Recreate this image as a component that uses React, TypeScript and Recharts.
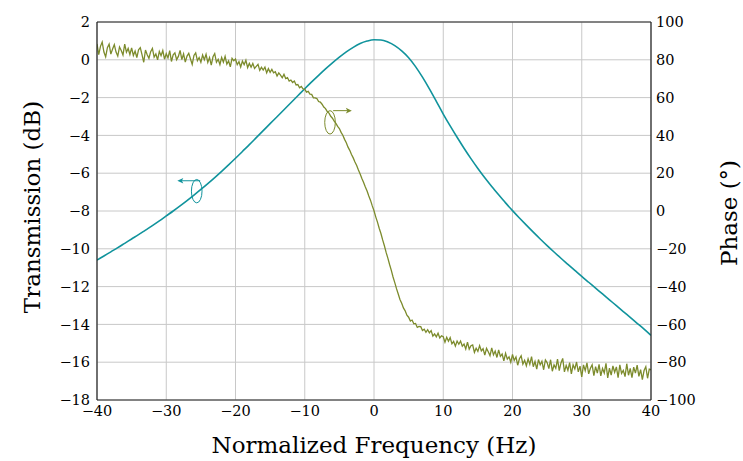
import React from 'react';
import {
  LineChart,
  Line,
  XAxis,
  YAxis,
  CartesianGrid,
  ReferenceDot,
  ReferenceLine,
  Label,
} from 'recharts';

const TEAL = '#10939c';
const OLIVE = '#7c8b2c';
const FONT = 'DejaVu Serif, serif';

const FREQ_TICKS = [-40, -30, -20, -10, 0, 10, 20, 30, 40];
const DB_TICKS = [-18, -16, -14, -12, -10, -8, -6, -4, -2, 0, 2];
const DEG_TICKS = [-100, -80, -60, -40, -20, 0, 20, 40, 60, 80, 100];

// transmission, sampled every 1 Hz from -40 Hz
const TRANS_START = -40;
const TRANS_STEP = 1;
const TRANSMISSION_DB = [
  -10.6, -10.38, -10.16, -9.94, -9.71, -9.48, -9.25, -9.01, -8.77, -8.52,
  -8.26, -8.0, -7.73, -7.45, -7.16, -6.86, -6.55, -6.23, -5.9, -5.56,
  -5.21, -4.85, -4.49, -4.12, -3.75, -3.38, -3.01, -2.64, -2.27, -1.9,
  -1.53, -1.17, -0.82, -0.48, -0.16, 0.14, 0.42, 0.66, 0.86, 0.99,
  1.06, 1.05, 0.94, 0.75, 0.47, 0.11, -0.36, -0.92, -1.54, -2.2,
  -2.87, -3.5, -4.1, -4.68, -5.23, -5.75, -6.24, -6.7, -7.14, -7.57,
  -7.98, -8.37, -8.75, -9.12, -9.48, -9.83, -10.17, -10.5, -10.82, -11.14,
  -11.46, -11.77, -12.08, -12.39, -12.7, -13.01, -13.32, -13.63, -13.94, -14.25,
  -14.58,
];

// phase, sampled every 0.25 Hz from -40 Hz (measured, noisy)
const PHASE_START = -40;
const PHASE_STEP = 0.25;
const PHASE_DEG = [
  88.4, 82.7, 87.1, 89.4, 84.1, 81.6, 86.4, 88.3, 83.0, 85.7,
  88.0, 84.1, 82.0, 86.8, 84.9, 82.5, 88.3, 84.0, 86.0, 82.8,
  86.3, 82.3, 84.6, 81.2, 85.3, 86.4, 82.7, 78.7, 85.2, 82.7,
  80.8, 84.3, 86.0, 81.4, 83.1, 80.0, 84.4, 82.2, 84.9, 80.3,
  83.2, 81.0, 84.9, 79.1, 82.6, 83.7, 80.1, 81.8, 85.0, 80.1,
  83.1, 78.8, 82.0, 83.4, 80.4, 77.6, 82.3, 83.7, 79.5, 81.2,
  78.7, 82.5, 80.0, 82.9, 78.6, 81.2, 77.2, 81.6, 83.3, 78.7,
  80.3, 77.5, 81.2, 78.7, 81.8, 77.7, 79.4, 76.3, 80.8, 79.5,
  80.4, 77.4, 79.0, 76.2, 79.3, 77.4, 79.8, 75.9, 78.1, 76.1,
  78.1, 75.4, 76.5, 77.6, 74.4, 76.0, 74.6, 76.1, 73.1, 75.3,
  73.4, 74.9, 73.1, 73.7, 71.4, 73.1, 71.9, 70.5, 72.3, 70.1,
  70.6, 68.7, 69.3, 68.0, 68.8, 66.7, 66.9, 65.2, 65.9, 64.6,
  64.5, 62.9, 63.3, 61.8, 61.7, 59.9, 59.9, 59.5, 57.9, 57.6,
  56.5, 55.0, 54.2, 52.6, 51.8, 50.1, 49.1, 47.5, 46.4, 44.8,
  43.6, 41.6, 40.1, 37.9, 36.1, 33.8, 32.1, 29.9, 28.1, 25.9,
  24.1, 21.7, 19.6, 17.2, 15.1, 12.7, 10.6, 7.9, 5.6, 2.7,
  0.1, -3.1, -5.9, -9.1, -11.9, -15.3, -18.4, -21.9, -24.9, -28.3,
  -31.4, -34.9, -37.9, -41.1, -43.9, -46.8, -48.8, -51.3, -52.8, -55.1,
  -56.2, -58.2, -57.7, -59.7, -59.5, -61.6, -61.1, -61.2, -63.2, -62.5,
  -64.2, -62.8, -64.5, -63.3, -66.2, -65.0, -66.6, -64.7, -67.2, -66.0,
  -66.5, -69.4, -66.8, -68.9, -67.0, -70.3, -69.0, -71.5, -68.8, -70.5,
  -68.8, -71.5, -70.4, -73.0, -69.4, -73.1, -71.3, -70.9, -74.8, -72.6,
  -74.3, -71.2, -74.0, -72.8, -76.3, -72.7, -74.5, -76.6, -72.4, -76.1,
  -74.1, -77.5, -73.5, -76.9, -75.7, -79.3, -75.3, -78.4, -77.2, -80.0,
  -75.9, -79.1, -77.2, -81.6, -78.2, -76.6, -81.0, -79.0, -81.9, -78.2,
  -81.1, -77.0, -82.4, -79.6, -83.7, -78.6, -81.4, -79.5, -84.0, -78.8,
  -80.2, -83.4, -78.7, -84.8, -81.4, -83.2, -78.4, -84.5, -80.4, -78.0,
  -85.1, -81.7, -84.3, -80.2, -86.2, -81.4, -83.6, -79.9, -85.1, -82.1,
  -87.8, -81.4, -84.5, -80.4, -86.2, -83.2, -81.4, -87.1, -82.3, -85.8,
  -81.1, -87.2, -83.3, -85.7, -80.6, -88.3, -83.1, -86.8, -82.0, -85.3,
  -82.5, -88.2, -81.4, -85.9, -84.3, -87.6, -80.8, -86.9, -83.3, -88.2,
  -82.6, -85.8, -81.5, -87.5, -83.9, -89.2, -84.4, -82.4, -88.5, -83.7,
  -84.0,
];

// curve markers (ellipse on the curve + arrow towards its axis)
const TRANS_MARK = { f: -25.6, db: -6.95 };
const TRANS_ARROW = { from: -25.1, to: -28.4, db: -6.4 };
const PHASE_MARK = { f: -6.35, deg: 46.9 };
const PHASE_ARROW = { from: -5.9, to: -3.2, deg: 53.1 };

const transmissionData = TRANSMISSION_DB.map((db, i) => ({ f: TRANS_START + i * TRANS_STEP, db }));
const phaseData = PHASE_DEG.map((deg, i) => ({ f: PHASE_START + i * PHASE_STEP, deg }));

const fmt = (v: number) => (v < 0 ? `\u2212${Math.abs(v)}` : String(v));

const tickStyle = { fill: '#000', fontSize: 14.5, fontFamily: FONT };
const titleStyle = { fontFamily: FONT, fontSize: 23, fill: '#000' };

function ellipseShape(color: string) {
  return (p: any) => (
    <ellipse cx={p.cx} cy={p.cy} rx={5.3} ry={11.7} fill="none" stroke={color} strokeWidth={1} />
  );
}

function arrowShape(color: string) {
  return (p: any) => {
    const { x1, y1, x2, y2 } = p;
    const dx = x2 - x1;
    const dy = y2 - y1;
    const len = Math.hypot(dx, dy) || 1;
    const ux = dx / len;
    const uy = dy / len;
    const bx = x2 - ux * 6;
    const by = y2 - uy * 6;
    return (
      <g>
        <line x1={x1} y1={y1} x2={bx + ux * 2} y2={by + uy * 2} stroke={color} strokeWidth={1} />
        <path
          d={`M${x2},${y2} L${bx - uy * 2.8},${by + ux * 2.8} L${bx + ux * 1.5},${by + uy * 1.5} L${bx + uy * 2.8},${by - ux * 2.8} Z`}
          fill={color}
        />
      </g>
    );
  };
}

export default function App() {
  return (
    <div style={{ position: 'absolute', left: 0, top: 0, width: 743, height: 461, background: '#fff' }}>
      <LineChart width={743} height={461} margin={{ top: 21, right: 0, bottom: 0, left: 0 }}>
        <CartesianGrid yAxisId="left" stroke="#c8c8c8" strokeWidth={1} />
        <XAxis
          dataKey="f"
          type="number"
          domain={[-40, 40]}
          ticks={FREQ_TICKS}
          tickFormatter={fmt}
          tick={tickStyle}
          tickLine={false}
          tickSize={0}
          tickMargin={6}
          height={61}
          axisLine={{ stroke: '#222', strokeWidth: 1.2 }}
          allowDataOverflow
        >
          <Label
            content={(props: any) => {
              const vb = props.viewBox || { x: 97, y: 400, width: 554, height: 61 };
              return (
                <text x={vb.x + vb.width / 2} y={vb.y + 53} textAnchor="middle" style={titleStyle}>
                  Normalized Frequency (Hz)
                </text>
              );
            }}
          />
        </XAxis>
        <XAxis
          xAxisId="top"
          orientation="top"
          type="number"
          domain={[-40, 40]}
          tick={false}
          tickLine={false}
          height={1}
          axisLine={{ stroke: '#222', strokeWidth: 1.2 }}
        />
        <YAxis
          yAxisId="left"
          type="number"
          domain={[-18, 2]}
          ticks={DB_TICKS}
          tickFormatter={fmt}
          tick={tickStyle}
          tickLine={false}
          tickSize={0}
          tickMargin={7}
          width={97}
          axisLine={{ stroke: '#222', strokeWidth: 1.2 }}
          allowDataOverflow
        >
          <Label
            content={(props: any) => {
              const vb = props.viewBox || { x: 0, y: 22, width: 97, height: 378 };
              const cx = vb.x + 40;
              const cy = vb.y + vb.height / 2 - 4;
              return (
                <text x={cx} y={cy} textAnchor="middle" transform={`rotate(-90 ${cx} ${cy})`} style={titleStyle}>
                  Transmission (dB)
                </text>
              );
            }}
          />
        </YAxis>
        <YAxis
          yAxisId="right"
          orientation="right"
          type="number"
          domain={[-100, 100]}
          ticks={DEG_TICKS}
          tickFormatter={fmt}
          tick={tickStyle}
          tickLine={false}
          tickSize={0}
          tickMargin={5}
          width={92}
          axisLine={{ stroke: '#222', strokeWidth: 1.2 }}
          allowDataOverflow
        >
          <Label
            content={(props: any) => {
              const vb = props.viewBox || { x: 651, y: 22, width: 92, height: 378 };
              const cx = vb.x + 86;
              const cy = vb.y + vb.height / 2 + 2;
              return (
                <text x={cx} y={cy} textAnchor="middle" transform={`rotate(-90 ${cx} ${cy})`} style={titleStyle}>
                  Phase (°)
                </text>
              );
            }}
          />
        </YAxis>

        <Line
          yAxisId="left"
          data={transmissionData}
          dataKey="db"
          type="monotone"
          stroke={TEAL}
          strokeWidth={1.6}
          dot={false}
          isAnimationActive={false}
        />
        <Line
          yAxisId="right"
          data={phaseData}
          dataKey="deg"
          type="linear"
          stroke={OLIVE}
          strokeWidth={1.3}
          dot={false}
          isAnimationActive={false}
        />

        <ReferenceDot yAxisId="left" x={TRANS_MARK.f} y={TRANS_MARK.db} shape={ellipseShape(TEAL)} />
        <ReferenceLine
          yAxisId="left"
          segment={[
            { x: TRANS_ARROW.from, y: TRANS_ARROW.db },
            { x: TRANS_ARROW.to, y: TRANS_ARROW.db },
          ]}
          shape={arrowShape(TEAL)}
        />
        <ReferenceDot yAxisId="right" x={PHASE_MARK.f} y={PHASE_MARK.deg} shape={ellipseShape(OLIVE)} />
        <ReferenceLine
          yAxisId="right"
          segment={[
            { x: PHASE_ARROW.from, y: PHASE_ARROW.deg },
            { x: PHASE_ARROW.to, y: PHASE_ARROW.deg },
          ]}
          shape={arrowShape(OLIVE)}
        />
      </LineChart>
    </div>
  );
}
